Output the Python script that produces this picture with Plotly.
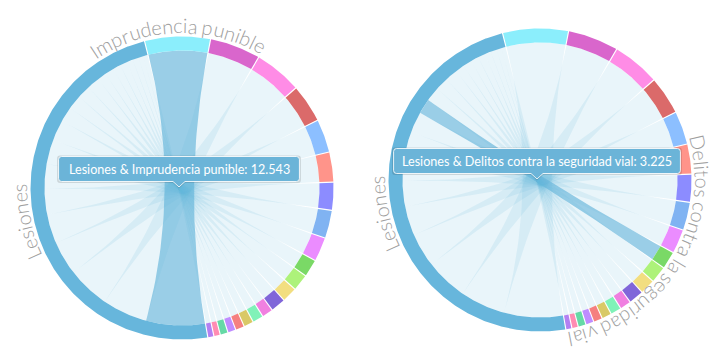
import math
import plotly.graph_objects as go

# ---------------- data ----------------
hub = "Lesiones"
hub_color = "#67B6DC"
categories = [
    "Imprudencia punible", "Malos tratos", "Amenazas", "Daños", "Robo con violencia",
    "Atentado contra la autoridad", "Resistencia y desobediencia", "Quebrantamiento de condena",
    "Violencia doméstica", "Delitos contra la seguridad vial", "Hurto", "Coacciones",
    "Detención ilegal", "Abandono de familia", "Injurias", "Allanamiento de morada",
    "Robo con fuerza", "Omisión del deber de socorro", "Homicidio", "Agresión sexual", "Estafa",
]
values = [12543, 9650, 9040, 7260, 6250, 5590, 5230, 5230, 4470, 3225, 3050,
          2750, 2700, 1950, 1900, 1680, 1520, 1350, 1300, 1020, 960]
colors = ["#8BEEFC", "#D966CC", "#FF8CE6", "#DB6A6A", "#8CBFFF", "#FF948A", "#8C8CFF",
          "#80B3F2", "#EB8CFF", "#7AD966", "#ADF27A", "#F2DE80", "#8066D9", "#F080E0",
          "#80F2B8", "#D9C966", "#F58080", "#BF8CFF", "#66D9A6", "#FF8CB3", "#B380F2"]
highlighted = ["Imprudencia punible", "Delitos contra la seguridad vial"]

# ---------------- layout parameters ----------------
W, H = 728, 358
centers = [(182, 188), (540, 180)]
R_OUT, R_IN = 151.5, 137.5
PAD = 0.45          # degrees between groups
START = 345.9       # angle (deg, clockwise from 12 o'clock) of first group
LABEL_R = 155.0
LABEL_FS = 20
TIP_FS = 12.6

CHAR_W = {'a': .49, 'b': .55, 'c': .46, 'd': .55, 'e': .51, 'g': .50, 'i': .24, 'l': .24,
          'm': .83, 'n': .55, 'o': .56, 'p': .55, 'r': .37, 's': .42, 't': .35, 'u': .55,
          'v': .50, 'D': .71, 'I': .27, 'L': .46, ' ': .20, '&': .66, ':': .24, '.': .22}
for d in "0123456789":
    CHAR_W[d] = .58


def cw(c, fs):
    return CHAR_W.get(c, .5) * fs


def pt(cx, cy, ang, r):
    a = math.radians(ang)
    return cx + r * math.sin(a), cy - r * math.cos(a)


def arc(cx, cy, a0, a1, r, step=0.5):
    n = max(2, int(abs(a1 - a0) / step) + 2)
    return [pt(cx, cy, a0 + (a1 - a0) * i / (n - 1), r) for i in range(n)]


def qbez(p0, c, p1, n=40):
    out = []
    for i in range(n + 1):
        t = i / n
        out.append(((1 - t) ** 2 * p0[0] + 2 * (1 - t) * t * c[0] + t * t * p1[0],
                    (1 - t) ** 2 * p0[1] + 2 * (1 - t) * t * c[1] + t * t * p1[1]))
    return out


# group angles (d3.chord-like layout: hub value = sum of the others)
total = 2 * sum(values)
k = (360 - PAD * (len(values) + 1)) / total
groups = []
a = START
for v in values:
    groups.append((a, a + v * k))
    a += v * k + PAD
hub_start, hub_end = a, a + sum(values) * k
sub = []
s = hub_start
for v in values:
    sub.append((s, s + v * k))
    s += v * k


def fmt(v):
    return f"{v:,}".replace(",", ".")


fig = go.Figure()
shapes = []
annotations = []

for (cx, cy), focus in zip(centers, highlighted):
    fi = categories.index(focus)
    # chords
    for i, v in enumerate(values):
        s0, s1 = sub[i]
        t0, t1 = groups[i]
        pts = arc(cx, cy, s0, s1, R_IN)
        pts += qbez(pt(cx, cy, s1, R_IN), (cx, cy), pt(cx, cy, t0, R_IN))
        pts += arc(cx, cy, t0, t1, R_IN)
        pts += qbez(pt(cx, cy, t1, R_IN), (cx, cy), pt(cx, cy, s0, R_IN))
        alpha = 0.66 if i == fi else 0.14
        fig.add_trace(go.Scatter(
            x=[p[0] for p in pts], y=[p[1] for p in pts], mode="lines", fill="toself",
            fillcolor=f"rgba(102,181,218,{alpha})", line=dict(width=0), hoverinfo="skip"))
    # ring segments
    segs = [(g, colors[i]) for i, g in enumerate(groups)] + [((hub_start, hub_end), hub_color)]
    for (g0, g1), col in segs:
        pts = arc(cx, cy, g0, g1, R_OUT) + arc(cx, cy, g1, g0, R_IN)
        fig.add_trace(go.Scatter(
            x=[p[0] for p in pts], y=[p[1] for p in pts], mode="lines", fill="toself",
            fillcolor=col, line=dict(width=0), hoverinfo="skip"))

    # curved labels
    for name, (g0, g1) in [(hub, (hub_start, hub_end)), (focus, groups[fi])]:
        mid = (g0 + g1) / 2
        widths = [cw(c, LABEL_FS) for c in name]
        tot = sum(widths)
        start = mid - math.degrees(tot / 2 / LABEL_R)
        cum = 0
        for c, w in zip(name, widths):
            ang = start + math.degrees((cum + w / 2) / LABEL_R)
            cum += w
            if c == " ":
                continue
            x, y = pt(cx, cy, ang, LABEL_R + 0.39 * LABEL_FS)
            annotations.append(dict(
                x=x, y=y, xref="x", yref="y", text=c, showarrow=False,
                textangle=ang, xanchor="center", yanchor="middle",
                font=dict(family="Lato", size=LABEL_FS, color="#9e9e9e", weight=300)))

    # tooltip
    text = f"{hub} & {focus}: {fmt(values[fi])}"
    tw = sum(cw(c, TIP_FS) for c in text)
    bw = tw + 26
    tx, ty = cx - 3, cy - 1
    y1 = ty - 5.5
    y0 = y1 - 25
    x0, x1 = tx - bw / 2, tx + bw / 2
    r = 3

    def box(x0, y0, x1, y1, tx, ty):
        return (f"M{x0 + r},{y0} L{x1 - r},{y0} Q{x1},{y0} {x1},{y0 + r} L{x1},{y1 - r} "
                f"Q{x1},{y1} {x1 - r},{y1} L{tx + 6},{y1} L{tx},{ty} L{tx - 6},{y1} "
                f"L{x0 + r},{y1} Q{x0},{y1} {x0},{y1 - r} L{x0},{y0 + r} Q{x0},{y0} {x0 + r},{y0} Z")

    shapes.append(dict(type="path", xref="x", yref="y", layer="above",
                       path=box(x0 - 1.5, y0 - 1, x1 + 1.5, y1 + 1.5, tx, ty + 1.5),
                       fillcolor="rgba(0,0,0,0.13)", line=dict(width=0)))
    shapes.append(dict(type="path", xref="x", yref="y", layer="above",
                       path=box(x0, y0, x1, y1, tx, ty),
                       fillcolor="#6BB4D8", line=dict(color="rgba(255,255,255,0.85)", width=1)))
    annotations.append(dict(x=tx, y=(y0 + y1) / 2, xref="x", yref="y", text=text,
                            showarrow=False, xanchor="center", yanchor="middle",
                            font=dict(family="Lato", size=TIP_FS, color="white")))

fig.update_layout(
    width=W, height=H, autosize=False, margin=dict(l=0, r=0, t=0, b=0),
    paper_bgcolor="white", plot_bgcolor="white", showlegend=False,
    xaxis=dict(range=[0, W], visible=False, fixedrange=True),
    yaxis=dict(range=[H, 0], visible=False, fixedrange=True),
    shapes=shapes, annotations=annotations,
)
fig.write_html("out.html", config={"displayModeBar": False},
               post_script="document.body.style.margin='0';document.body.style.overflow='hidden';")
